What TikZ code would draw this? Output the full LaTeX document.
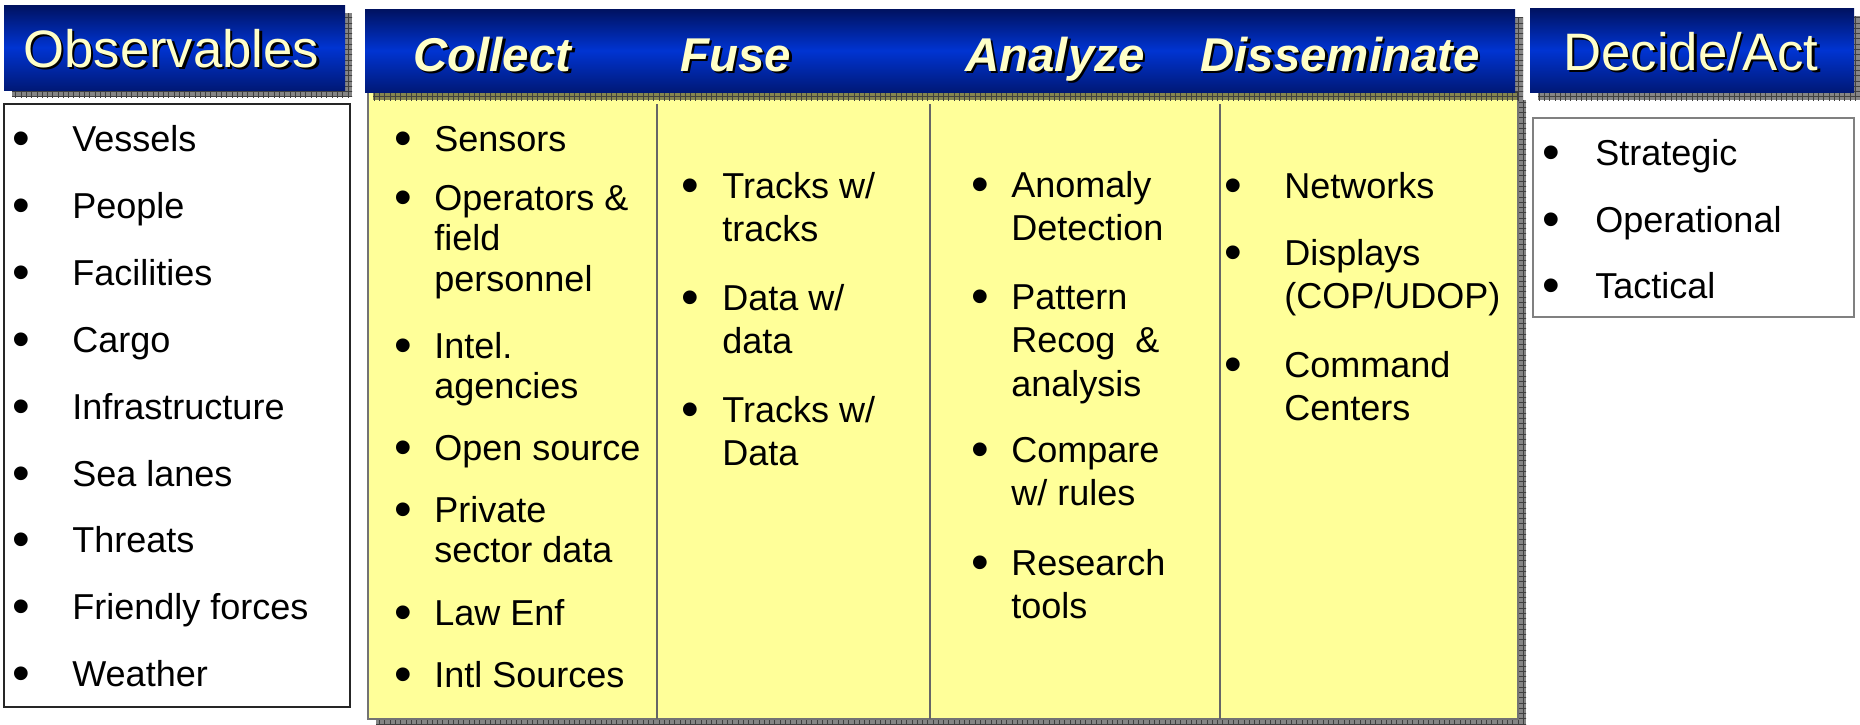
\documentclass[tikz,border=0pt]{standalone}
\usepackage{fontspec}
\setmainfont{Liberation Sans}
\usetikzlibrary{patterns}
\definecolor{hdark}{RGB}{0,18,96}
\definecolor{hmid}{RGB}{0,52,210}
\definecolor{htext}{RGB}{255,255,200}
\definecolor{boxyellow}{RGB}{255,255,153}
\newcommand{\itemfont}{\fontsize{20.5}{25}\selectfont}
\newcommand{\itemlines}[1]{\begin{tabular}[t]{@{}l@{}}#1\end{tabular}}
\newcommand{\shadowed}[1]{\makebox[0pt][l]{\kern1.4pt\raisebox{-1.4pt}{\textcolor{black}{#1}}}#1}
\newcommand{\dotmark}{\raisebox{-0.13em}{\scalebox{1.4}{•}}}

\begin{document}
\begin{tikzpicture}[x=0.02cm, y=-0.02cm,
 bullet/.style={anchor=base, inner sep=0pt, font=\itemfont},
 entry/.style={anchor=base west, inner sep=0pt, font=\itemfont},
 tight/.style={font=\fontsize{20.5}{23.3}\selectfont},
 headtitle/.style={anchor=base west, inner sep=0pt, text=htext, font=\fontsize{30}{36}\selectfont},
 stagetitle/.style={headtitle, font=\fontsize{27}{32}\selectfont\bfseries\itshape},
 banner/.style={top color=hdark, bottom color=hdark!80!hmid, middle color=hmid},
 dropshadow/.style={fill=black, fill opacity=0.48},
 checker/.style={pattern=grid, pattern color=black!75},
 divider/.style={draw=black!60, line width=1pt}]
\useasboundingbox (0,0) rectangle (1860,724);

% Observables
\fill[dropshadow] (12,13) rectangle (352,97);
\fill[checker] (12,13) rectangle (352,97);
\shade[banner] (4,5) rectangle (345,90);
\draw[black!85, line width=1pt, fill=white] (4,104) rectangle (350,707);

% Collect ... Disseminate
\fill[dropshadow] (376,100) rectangle (1526,727);
\fill[checker] (376,100) rectangle (1526,727);
\draw[black!55, line width=1pt, fill=boxyellow] (368,92) rectangle (1518,719);
\fill[dropshadow] (373,17) rectangle (1523,100);
\fill[checker] (373,17) rectangle (1523,100);
\shade[banner] (365,9) rectangle (1515,92);
\draw[divider] (657,104) -- (657,719);
\draw[divider] (930,104) -- (930,719);
\draw[divider] (1220,104) -- (1220,719);

% Decide/Act
\fill[dropshadow] (1538,16) rectangle (1860,100);
\fill[checker] (1538,16) rectangle (1860,100);
\shade[banner] (1530,8) rectangle (1854,92);
\draw[black!50, line width=1pt, fill=white] (1533,118) rectangle (1854,317);

% titles
\node[headtitle] (tobs) at (23,67) {\shadowed{Observables}};
\node[stagetitle] (tcol) at (413,71) {\shadowed{Collect}};
\node[stagetitle] (tfus) at (680,71) {\shadowed{Fuse}};
\node[stagetitle] (tana) at (965,71) {\shadowed{Analyze}};
\node[stagetitle] (tdis) at (1200,71) {\shadowed{Disseminate}};
\node[headtitle] (tdec) at (1563,70) {\shadowed{Decide/Act}};

% observables list
\node[bullet] (obsb1) at (21,151) {\dotmark};
\node[entry] (obs1) at (72,151) {Vessels};
\node[bullet] (obsb2) at (21,218) {\dotmark};
\node[entry] (obs2) at (72,218) {People};
\node[bullet] (obsb3) at (21,285) {\dotmark};
\node[entry] (obs3) at (72,285) {Facilities};
\node[bullet] (obsb4) at (21,352) {\dotmark};
\node[entry] (obs4) at (72,352) {Cargo};
\node[bullet] (obsb5) at (21,419) {\dotmark};
\node[entry] (obs5) at (72,419) {Infrastructure};
\node[bullet] (obsb6) at (21,486) {\dotmark};
\node[entry] (obs6) at (72,486) {Sea lanes};
\node[bullet] (obsb7) at (21,552) {\dotmark};
\node[entry] (obs7) at (72,552) {Threats};
\node[bullet] (obsb8) at (21,619) {\dotmark};
\node[entry] (obs8) at (72,619) {Friendly forces};
\node[bullet] (obsb9) at (21,686) {\dotmark};
\node[entry] (obs9) at (72,686) {Weather};

% collect list
\node[bullet] (colb1) at (403,151) {\dotmark};
\node[entry] (col1) at (434,151) {Sensors};
\node[bullet] (colb2) at (403,210) {\dotmark};
\node[entry, tight] (col2) at (434,210) {\itemlines{Operators \&\\ field\\ personnel}};
\node[bullet] (colb3) at (403,358) {\dotmark};
\node[entry, tight] (col3) at (434,358) {\itemlines{Intel.\\ agencies}};
\node[bullet] (colb4) at (403,460) {\dotmark};
\node[entry] (col4) at (434,460) {Open source};
\node[bullet] (colb5) at (403,522) {\dotmark};
\node[entry, tight] (col5) at (434,522) {\itemlines{Private\\ sector data}};
\node[bullet] (colb6) at (403,625) {\dotmark};
\node[entry] (col6) at (434,625) {Law Enf};
\node[bullet] (colb7) at (403,687) {\dotmark};
\node[entry] (col7) at (434,687) {Intl Sources};

% fuse list
\node[bullet] (fusb1) at (690,198) {\dotmark};
\node[entry] (fus1) at (722,198) {\itemlines{Tracks w/\\ tracks}};
\node[bullet] (fusb2) at (690,310) {\dotmark};
\node[entry] (fus2) at (722,310) {\itemlines{Data w/\\ data}};
\node[bullet] (fusb3) at (690,422) {\dotmark};
\node[entry] (fus3) at (722,422) {\itemlines{Tracks w/\\ Data}};

% analyze list
\node[bullet] (anab1) at (980,197) {\dotmark};
\node[entry] (ana1) at (1011,197) {\itemlines{Anomaly\\ Detection}};
\node[bullet] (anab2) at (980,309) {\dotmark};
\node[entry] (ana2) at (1011,309) {\itemlines{Pattern\\ Recog~~\&\\ analysis}};
\node[bullet] (anab3) at (980,462) {\dotmark};
\node[entry] (ana3) at (1011,462) {\itemlines{Compare\\ w/ rules}};
\node[bullet] (anab4) at (980,575) {\dotmark};
\node[entry] (ana4) at (1011,575) {\itemlines{Research\\ tools}};

% disseminate list
\node[bullet] (disb1) at (1233,198) {\dotmark};
\node[entry] (dis1) at (1284,198) {Networks};
\node[bullet] (disb2) at (1233,265) {\dotmark};
\node[entry] (dis2) at (1284,265) {\itemlines{Displays\\ (COP/UDOP)}};
\node[bullet] (disb3) at (1233,377) {\dotmark};
\node[entry] (dis3) at (1284,377) {\itemlines{Command\\ Centers}};

% decide list
\node[bullet] (decb1) at (1551,165) {\dotmark};
\node[entry] (dec1) at (1595,165) {Strategic};
\node[bullet] (decb2) at (1551,232) {\dotmark};
\node[entry] (dec2) at (1595,232) {Operational};
\node[bullet] (decb3) at (1551,298) {\dotmark};
\node[entry] (dec3) at (1595,298) {Tactical};
\end{tikzpicture}
\end{document}
